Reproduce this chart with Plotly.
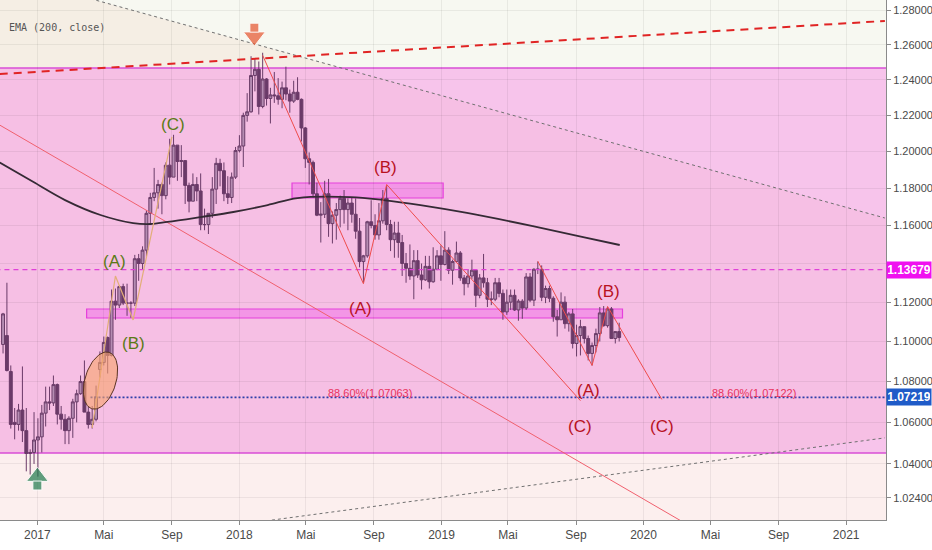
import numpy as np
import pandas as pd
import plotly.graph_objects as go

# weekly EUR/USD candles, first week starts 2016-10-31
week_open = [
    1.0985, 1.1030, 1.0850, 1.0600, 1.0590, 1.0660, 1.0560, 1.0450, 1.0455,
    # 2017
    1.0515, 1.0530, 1.0645, 1.0700, 1.0695, 1.0785, 1.0640, 1.0615, 1.0560, 1.0620,
    1.0700, 1.0740, 1.0800, 1.0650, 1.0590, 1.0615, 1.0860, 1.0895, 1.1020, 1.0930,
    1.1205, 1.1185, 1.1280, 1.1195, 1.1195, 1.1195, 1.1425, 1.1400, 1.1470, 1.1665,
    1.1750, 1.1775, 1.1820, 1.1760, 1.1925, 1.1860, 1.2035, 1.1945, 1.1950, 1.1815,
    1.1730, 1.1820, 1.1785, 1.1605, 1.1605, 1.1665, 1.1795, 1.1935, 1.1895, 1.1770,
    1.1750, 1.1860,
    # 2018
    1.2005, 1.2030, 1.2200, 1.2220, 1.2425, 1.2460, 1.2250, 1.2405, 1.2295, 1.2315,
    1.2310, 1.2290, 1.2355, 1.2320, 1.2280, 1.2330, 1.2290, 1.2130, 1.1960, 1.1940,
    1.1770, 1.1655, 1.1660, 1.1770, 1.1610, 1.1655, 1.1685, 1.1745, 1.1685, 1.1720,
    1.1660, 1.1570, 1.1410, 1.1440, 1.1620, 1.1600, 1.1550, 1.1625, 1.1745, 1.1605,
    1.1525, 1.1560, 1.1510, 1.1400, 1.1375, 1.1335, 1.1415, 1.1340, 1.1315, 1.1385,
    1.1305, 1.1370, 1.1440,
    # 2019
    1.1395, 1.1470, 1.1365, 1.1410, 1.1455, 1.1325, 1.1295, 1.1335, 1.1365, 1.1235,
    1.1325, 1.1300, 1.1215, 1.1215, 1.1300, 1.1245, 1.1150, 1.1200, 1.1235, 1.1160,
    1.1205, 1.1170, 1.1330, 1.1210, 1.1370, 1.1370, 1.1225, 1.1270, 1.1220, 1.1125,
    1.1110, 1.1200, 1.1090, 1.1140, 1.0990, 1.1030, 1.1075, 1.1015, 1.0940, 1.0980,
    1.1040, 1.1145, 1.1080, 1.1165, 1.1015, 1.1050,
]
week_high = [
    1.1145, 1.1300, 1.0880, 1.0670, 1.0690, 1.0875, 1.0670, 1.0470, 1.0650,
    1.0620, 1.0685, 1.0775, 1.0775, 1.0830, 1.0790, 1.0680, 1.0640, 1.0630, 1.0715,
    1.0760, 1.0830, 1.0905, 1.0680, 1.0680, 1.0780, 1.0950, 1.1025, 1.1025, 1.1265,
    1.1270, 1.1285, 1.1295, 1.1295, 1.1205, 1.1445, 1.1450, 1.1490, 1.1680, 1.1775,
    1.1910, 1.1845, 1.1830, 1.1940, 1.2070, 1.2092, 1.2035, 1.2035, 1.1950, 1.1830,
    1.1880, 1.1860, 1.1880, 1.1690, 1.1665, 1.1860, 1.1965, 1.1960, 1.1940, 1.1865,
    1.1885, 1.2025,
    1.2090, 1.2215, 1.2325, 1.2535, 1.2520, 1.2505, 1.2555, 1.2410, 1.2355, 1.2445,
    1.2410, 1.2390, 1.2475, 1.2345, 1.2395, 1.2415, 1.2295, 1.2135, 1.1995, 1.1950,
    1.1830, 1.1725, 1.1840, 1.1850, 1.1675, 1.1720, 1.1760, 1.1790, 1.1745, 1.1750,
    1.1745, 1.1640, 1.1445, 1.1625, 1.1735, 1.1660, 1.1720, 1.1790, 1.1815, 1.1630,
    1.1620, 1.1620, 1.1550, 1.1455, 1.1500, 1.1470, 1.1470, 1.1400, 1.1440, 1.1440,
    1.1485, 1.1470, 1.1495,
    1.1570, 1.1485, 1.1420, 1.1515, 1.1465, 1.1340, 1.1370, 1.1420, 1.1370, 1.1345,
    1.1450, 1.1325, 1.1255, 1.1325, 1.1325, 1.1265, 1.1265, 1.1265, 1.1265, 1.1215,
    1.1215, 1.1350, 1.1350, 1.1375, 1.1410, 1.1390, 1.1285, 1.1285, 1.1230, 1.1160,
    1.1250, 1.1230, 1.1150, 1.1165, 1.1085, 1.1110, 1.1075, 1.1030, 1.0995, 1.1065,
    1.1175, 1.1180, 1.1175, 1.1175, 1.1050, 1.1095,
]
week_low = [
    1.0940, 1.0850, 1.0570, 1.0518, 1.0560, 1.0505, 1.0365, 1.0350, 1.0400,
    1.0340, 1.0455, 1.0580, 1.0660, 1.0680, 1.0590, 1.0565, 1.0495, 1.0495, 1.0525,
    1.0600, 1.0735, 1.0650, 1.0570, 1.0570, 1.0605, 1.0820, 1.0880, 1.0840, 1.0925,
    1.1110, 1.1170, 1.1185, 1.1130, 1.1120, 1.1180, 1.1310, 1.1370, 1.1435, 1.1610,
    1.1730, 1.1690, 1.1660, 1.1740, 1.1820, 1.1860, 1.1840, 1.1860, 1.1715, 1.1670,
    1.1730, 1.1730, 1.1575, 1.1575, 1.1555, 1.1640, 1.1715, 1.1810, 1.1730, 1.1715,
    1.1720, 1.1850,
    1.1995, 1.1915, 1.2165, 1.2215, 1.2335, 1.2205, 1.2240, 1.2255, 1.2155, 1.2270,
    1.2260, 1.2240, 1.2285, 1.2215, 1.2270, 1.2285, 1.2055, 1.1910, 1.1820, 1.1750,
    1.1650, 1.1510, 1.1640, 1.1540, 1.1505, 1.1525, 1.1590, 1.1610, 1.1575, 1.1615,
    1.1530, 1.1380, 1.1300, 1.1430, 1.1585, 1.1525, 1.1525, 1.1610, 1.1575, 1.1465,
    1.1430, 1.1430, 1.1335, 1.1300, 1.1315, 1.1215, 1.1325, 1.1265, 1.1310, 1.1270,
    1.1300, 1.1365, 1.1310,
    1.1390, 1.1345, 1.1290, 1.1410, 1.1310, 1.1235, 1.1275, 1.1320, 1.1175, 1.1220,
    1.1275, 1.1175, 1.1185, 1.1205, 1.1225, 1.1110, 1.1135, 1.1160, 1.1155, 1.1105,
    1.1115, 1.1160, 1.1200, 1.1180, 1.1345, 1.1205, 1.1195, 1.1200, 1.1100, 1.1025,
    1.1110, 1.1065, 1.1050, 1.0965, 1.0925, 1.0930, 1.0990, 1.0905, 1.0880, 1.0945,
    1.1000, 1.1075, 1.1070, 1.1015, 1.0990, 1.1000,
]
week_close = [
    1.1140, 1.0855, 1.0590, 1.0590, 1.0660, 1.0560, 1.0450, 1.0455, 1.0515,
    1.0530, 1.0645, 1.0700, 1.0695, 1.0785, 1.0640, 1.0615, 1.0560, 1.0620, 1.0700,
    1.0740, 1.0800, 1.0650, 1.0590, 1.0615, 1.0725, 1.0895, 1.0995, 1.0930, 1.1205,
    1.1185, 1.1280, 1.1195, 1.1195, 1.1195, 1.1425, 1.1400, 1.1470, 1.1665, 1.1750,
    1.1775, 1.1820, 1.1760, 1.1925, 1.1860, 1.2035, 1.1945, 1.1950, 1.1815, 1.1730,
    1.1820, 1.1785, 1.1605, 1.1605, 1.1665, 1.1795, 1.1935, 1.1895, 1.1770, 1.1750,
    1.1860, 1.2005,
    1.2030, 1.2200, 1.2220, 1.2425, 1.2460, 1.2250, 1.2405, 1.2295, 1.2315, 1.2310,
    1.2290, 1.2355, 1.2320, 1.2280, 1.2330, 1.2290, 1.2130, 1.1960, 1.1940, 1.1770,
    1.1655, 1.1660, 1.1770, 1.1610, 1.1655, 1.1685, 1.1745, 1.1685, 1.1720, 1.1660,
    1.1570, 1.1410, 1.1440, 1.1620, 1.1600, 1.1550, 1.1625, 1.1745, 1.1605, 1.1525,
    1.1560, 1.1510, 1.1400, 1.1375, 1.1335, 1.1415, 1.1340, 1.1315, 1.1385, 1.1305,
    1.1370, 1.1440, 1.1395,
    1.1470, 1.1365, 1.1410, 1.1455, 1.1325, 1.1295, 1.1335, 1.1365, 1.1235, 1.1325,
    1.1300, 1.1215, 1.1215, 1.1300, 1.1245, 1.1150, 1.1200, 1.1235, 1.1160, 1.1205,
    1.1170, 1.1330, 1.1210, 1.1370, 1.1370, 1.1225, 1.1270, 1.1220, 1.1125, 1.1110,
    1.1200, 1.1090, 1.1140, 1.0990, 1.1030, 1.1075, 1.1015, 1.0940, 1.0980, 1.1040,
    1.1145, 1.1080, 1.1165, 1.1015, 1.1050, 1.1020,
]
weeks = pd.date_range("2016-10-31", periods=len(week_close), freq="7D")

# EMA (200, close)
ema_dates = ["2016-10-25", "2016-12-25", "2017-02-20", "2017-04-25", "2017-06-23",
             "2017-07-24", "2017-08-24", "2017-10-23", "2017-12-21", "2018-02-21",
             "2018-04-16", "2018-07-21", "2018-09-18", "2018-11-24", "2019-02-16",
             "2019-06-15", "2019-09-14", "2019-11-19"]
ema_values = [1.1940, 1.1833, 1.1736, 1.1656, 1.1613, 1.1608, 1.1619, 1.1645, 1.1672,
              1.1709, 1.1747, 1.1752, 1.1736, 1.1709, 1.1667, 1.1597, 1.1539, 1.1497]

x_tick_dates = ["2017-01-01", "2017-05-01", "2017-09-01", "2018-01-01", "2018-05-01",
                "2018-09-01", "2019-01-01", "2019-05-01", "2019-09-01", "2020-01-01",
                "2020-05-01", "2020-09-01", "2021-01-01"]
x_tick_text = ["2017", "Mai", "Sep", "2018", "Mai", "Sep", "2019", "Mai", "Sep",
               "2020", "Mai", "Sep", "2021"]
y_tick_values = [1.024, 1.04, 1.06, 1.08, 1.10, 1.12, 1.14, 1.16, 1.18, 1.20,
                 1.22, 1.24, 1.26, 1.28]
y_tick_text = ["1.02400", "1.04000", "1.06000", "1.08000", "1.10000", "1.12000", "",
               "1.16000", "1.18000", "1.20000", "1.22000", "1.24000", "1.26000", "1.28000"]

# drawings on the chart (date, price anchors)
green_wave_dates = ["2017-04-10", "2017-05-22", "2017-06-23", "2017-09-01"]
green_wave_prices = [1.0573, 1.1335, 1.1109, 1.2081]
red_wave1_dates = ["2018-02-12", "2018-08-13", "2018-09-24", "2019-09-09"]
red_wave1_prices = [1.2540, 1.1295, 1.1820, 1.0706]
red_wave2_dates = ["2019-06-24", "2019-09-30", "2019-10-28", "2020-02-03"]
red_wave2_prices = [1.1412, 1.0880, 1.1178, 1.0712]

green_label_text = ["(A)", "(B)", "(C)"]
green_label_dates = ["2017-05-21", "2017-06-24", "2017-09-03"]
green_label_prices = [1.1413, 1.0992, 1.2152]
red_label_text = ["(A)", "(B)", "(C)", "(A)", "(B)", "(C)"]
red_label_dates = ["2018-08-08", "2018-09-21", "2019-09-09", "2019-09-24", "2019-10-29", "2020-02-04"]
red_label_prices = [1.1170, 1.1915, 1.0582, 1.0758, 1.1257, 1.0582]
fib_text = ["88.60%(1.07063)", "88.60%(1.07122)"]
fib_dates = ["2018-08-25", "2020-07-19"]
fib_prices = [1.0744, 1.0744]

level_pink = 1.13679
level_blue = 1.07219

X_RANGE = ["2016-10-25 12:00", "2021-03-14"]
Y_RANGE = [1.01366, 1.2862]
PLOT_W, PLOT_H = 886, 520
LEFT, RIGHT = "2016-10-01", "2021-04-01"

# wedge between the two grey dotted trend lines (left point, right point)
wedge_top = [("2016-10-01", 1.3040), ("2021-03-12", 1.164)]
wedge_bottom = [("2016-10-01", 0.9960), ("2021-03-12", 1.0525)]

FONT = "Liberation Sans Narrow, Liberation Sans, Arial, sans-serif"

x0 = pd.Timestamp(X_RANGE[0])
x_days = (pd.Timestamp(X_RANGE[1]) - x0).total_seconds() / 86400
ly0, ly1 = np.log10(Y_RANGE[0]), np.log10(Y_RANGE[1])


def to_paper(d, p):
    return ((pd.Timestamp(d) - x0).total_seconds() / 86400 / x_days,
            (np.log10(p) - ly0) / (ly1 - ly0))


fig = go.Figure()


def line(xs, ys, color, width=1, dash="solid", shape="linear"):
    fig.add_trace(go.Scatter(x=xs, y=ys, mode="lines", hoverinfo="skip",
                             line=dict(color=color, width=width, dash=dash, shape=shape)))


def rect(xa, xb, ya, yb, fill, border=None, width=0):
    fig.add_shape(type="rect", xref="x", yref="y", x0=xa, x1=xb, y0=ya, y1=yb,
                  fillcolor=fill, layer="below",
                  line=dict(color=border or "rgba(0,0,0,0)", width=width))


# background areas
rect(LEFT, RIGHT, 0.95, 1.0453, "#fcefee")

(tx0, ty0), (tx1, ty1) = [to_paper(*pt) for pt in wedge_top]
(bx0, by0), (bx1, by1) = [to_paper(*pt) for pt in wedge_bottom]
top_at = lambda x: ty0 + (ty1 - ty0) * (x - tx0) / (tx1 - tx0)
bot_at = lambda x: by0 + (by1 - by0) * (x - bx0) / (bx1 - bx0)
top_cross = tx0 + (1 - ty0) * (tx1 - tx0) / (ty1 - ty0)
bot_cross = bx0 + (0 - by0) * (bx1 - bx0) / (by1 - by0)
wedge_path = "M 0,0 L 0,1 L {:.4f},1 L 1,{:.4f} L 1,{:.4f} L {:.4f},0 Z".format(
    top_cross, top_at(1), bot_at(1), bot_cross)
fig.add_shape(type="path", xref="paper", yref="paper", path=wedge_path,
              fillcolor="rgba(244,232,220,0.6)", line=dict(width=0), layer="below")

rect(LEFT, RIGHT, 1.0453, 1.2468, "rgba(246,135,228,0.46)", "#d94fd6", 1.5)

# zones
rect("2018-04-06", "2019-01-04", 1.1747, 1.1828, "rgba(240,90,232,0.40)", "#e640dc", 1.2)
rect("2017-03-31", "2019-11-24", 1.1119, 1.1165, "rgba(240,90,232,0.40)", "#e640dc", 1.2)

# horizontal levels
line([LEFT, RIGHT], [level_pink, level_pink], "#e040d8", 1.2, "5px,4px")
line(["2017-04-07", RIGHT], [level_blue, level_blue], "#2c3fa8", 1.6, "2px,2px")

# trend lines
line([wedge_top[0][0], wedge_top[1][0]], [wedge_top[0][1], wedge_top[1][1]], "#707070", 1, "3px,3px")
line([wedge_bottom[0][0], wedge_bottom[1][0]], [wedge_bottom[0][1], wedge_bottom[1][1]],
     "#707070", 1, "3px,3px")
line(["2016-10-25", "2021-03-12"], [1.2433, 1.2739], "#e02424", 2, "8px,6px")
line(["2016-10-25", "2020-04-11"], [1.2146, 1.0083], "#f0606e", 1)

# candles
fig.add_trace(go.Candlestick(
    x=weeks, open=week_open, high=week_high, low=week_low, close=week_close,
    increasing=dict(fillcolor="#b58cb2", line=dict(color="#6a3c68", width=1)),
    decreasing=dict(fillcolor="#6a3a68", line=dict(color="#6a3a68", width=1)),
    whiskerwidth=0, hoverinfo="skip"))

# EMA 200
line(ema_dates, ema_values, "#352a35", 1.8, shape="spline")

# wave drawings
line(green_wave_dates, green_wave_prices, "#e2ae78", 1.2)
line(red_wave1_dates, red_wave1_prices, "#ef4c4c", 1)
line(red_wave2_dates, red_wave2_prices, "#ef4c4c", 1)

# ellipse around the breakout (sizes in screen pixels)
px_per_day = PLOT_W / x_days
px_per_log = PLOT_H / (ly1 - ly0)
t = np.linspace(0, 2 * np.pi, 80)
tilt = np.radians(17)
a_px, b_px = 29.5, 15.5
dx = a_px * np.cos(t) * np.sin(tilt) + b_px * np.sin(t) * np.cos(tilt)
dy = -a_px * np.cos(t) * np.cos(tilt) + b_px * np.sin(t) * np.sin(tilt)
e_x = pd.Timestamp("2017-04-25") + pd.to_timedelta(dx / px_per_day, unit="D")
e_y = 10 ** (np.log10(1.0805) - dy / px_per_log)
fig.add_trace(go.Scatter(x=e_x, y=e_y, mode="lines", fill="toself",
                         fillcolor="rgba(247,165,110,0.62)", hoverinfo="skip",
                         line=dict(color="#5a3322", width=1)))

# arrows
fig.add_trace(go.Scatter(x=["2018-01-28", "2018-01-28"], y=[1.2648, 1.2700], mode="markers",
                         marker=dict(symbol=["triangle-down", "square"], size=[19, 9],
                                     color="#e5542d"), hoverinfo="skip"))
fig.add_trace(go.Scatter(x=["2017-01-01", "2017-01-01"], y=[1.0340, 1.0298], mode="markers",
                         marker=dict(symbol=["triangle-up", "square"], size=[19, 9],
                                     color="#1f7a4c"), hoverinfo="skip"))

annotations = []
for txt, d, p in zip(green_label_text, green_label_dates, green_label_prices):
    annotations.append(dict(x=d, y=np.log10(p), text=txt, showarrow=False,
                            font=dict(family=FONT, size=17, color="#5b7a16")))
for txt, d, p in zip(red_label_text, red_label_dates, red_label_prices):
    annotations.append(dict(x=d, y=np.log10(p), text=txt, showarrow=False,
                            font=dict(family=FONT, size=17, color="#b8121f")))
for txt, d, p in zip(fib_text, fib_dates, fib_prices):
    annotations.append(dict(x=d, y=np.log10(p), text=txt, showarrow=False,
                            font=dict(family=FONT, size=11, color="#e8335e")))
annotations.append(dict(xref="paper", yref="paper", x=0.008, y=0.962, xanchor="left",
                        text="EMA (200, close)", showarrow=False,
                        font=dict(family="DejaVu Sans Mono", size=10, color="#555555")))
for lvl, col in [(level_pink, "#f010f0"), (level_blue, "#1f5bc8")]:
    annotations.append(dict(xref="paper", x=1.0, xanchor="left", y=np.log10(lvl),
                            text="<b>%.5f</b>" % lvl, showarrow=False, bgcolor=col,
                            width=42, height=14, borderpad=1,
                            font=dict(family=FONT, size=12, color="white")))

fig.update_layout(
    width=932, height=550,
    margin=dict(l=0, r=46, t=0, b=30),
    paper_bgcolor="white",
    plot_bgcolor="#f7f8f1",
    showlegend=False,
    hovermode=False,
    boxgap=0.25, boxgroupgap=0,
    annotations=annotations,
    font=dict(family=FONT, size=11, color="#4a4a4a"),
    xaxis=dict(
        type="date", range=X_RANGE, rangeslider=dict(visible=False),
        tickvals=x_tick_dates, ticktext=x_tick_text, tickfont=dict(size=12),
        showgrid=True, gridcolor="rgba(0,0,0,0.06)", zeroline=False,
        showline=True, linecolor="#8a8a8a", ticks="outside", ticklen=4,
        tickcolor="#8a8a8a",
    ),
    yaxis=dict(
        type="log", side="right", range=[ly0, ly1],
        tickvals=y_tick_values, ticktext=y_tick_text, tickfont=dict(size=11),
        showgrid=True, gridcolor="rgba(0,0,0,0.06)", zeroline=False,
        showline=True, linecolor="#8a8a8a", ticks="outside", ticklen=4,
        tickcolor="#8a8a8a",
    ),
)

fig.write_html("out.html", config={"displayModeBar": False},
               post_script="document.body.style.margin='0';")
